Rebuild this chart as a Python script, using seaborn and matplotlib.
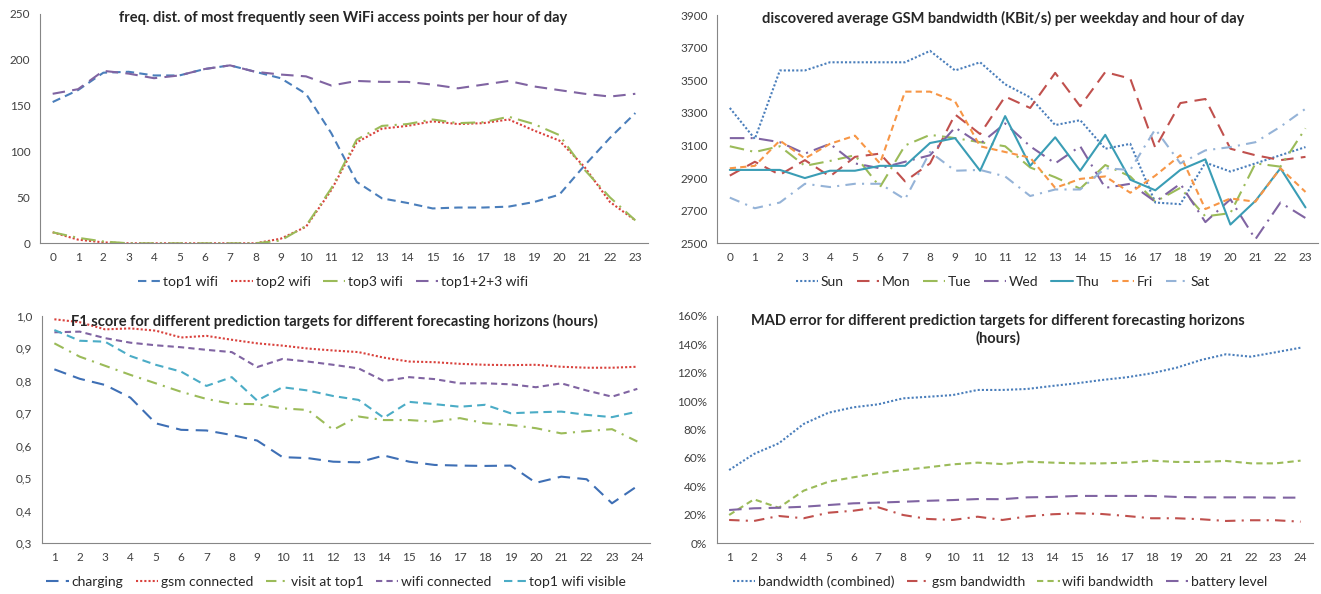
import matplotlib
matplotlib.use('Agg')
import matplotlib.pyplot as plt
import matplotlib.ticker as mticker
import numpy as np
import pandas as pd
import seaborn as sns

# ---- data ----
hours = list(range(24))
top1_wifi = [154, 167, 186, 187, 183, 183, 190, 194, 187, 180, 163, 120, 67, 49, 44, 38, 39, 39, 40, 45, 53, 85, 115, 142]
top2_wifi = [12, 4, 1, 0, 0, 0, 0, 0, 0, 5, 18, 58, 110, 125, 128, 133, 130, 131, 135, 123, 112, 83, 45, 25]
top3_wifi = [12, 6, 2, 0, 0, 0, 0, 0, 0, 3, 19, 60, 113, 128, 130, 135, 131, 132, 138, 130, 118, 80, 50, 25]
top123_wifi = [163, 168, 188, 185, 180, 183, 190, 194, 187, 184, 182, 172, 177, 176, 176, 173, 169, 173, 177, 171, 167, 163, 160, 163]

sun = [3330, 3140, 3560, 3560, 3610, 3610, 3610, 3610, 3680, 3560, 3610, 3475, 3395, 3225, 3255, 3080, 3110, 2750, 2740, 2995, 2940, 2990, 3040, 3090]
mon = [2915, 3000, 2920, 3010, 2910, 3030, 3050, 2880, 2990, 3290, 3170, 3400, 3330, 3545, 3340, 3550, 3510, 3085, 3360, 3385, 3080, 3040, 3010, 3030]
tue = [3095, 3060, 3095, 2975, 3005, 3040, 2845, 3100, 3165, 3145, 3120, 3095, 2965, 2905, 2835, 2980, 2910, 2755, 2840, 2665, 2685, 2990, 2970, 3205]
wed = [3145, 3145, 3120, 3050, 3110, 2990, 2960, 3000, 3040, 3210, 3110, 3235, 3095, 2990, 3095, 2840, 2865, 2755, 2865, 2630, 2770, 2525, 2750, 2655]
thu = [2950, 2950, 2950, 2900, 2945, 2945, 2975, 2975, 3115, 3145, 2945, 3280, 2975, 3150, 2945, 3165, 2890, 2825, 2950, 3015, 2615, 2760, 2960, 2720]
fri = [2960, 2975, 3130, 3020, 3110, 3160, 2990, 3430, 3430, 3370, 3095, 3060, 3025, 2840, 2895, 2910, 2810, 2915, 3040, 2710, 2775, 2755, 2960, 2815]
sat = [2780, 2715, 2750, 2865, 2845, 2865, 2865, 2770, 3060, 2945, 2950, 2910, 2790, 2830, 2830, 2960, 2950, 3200, 2990, 3070, 3090, 3120, 3215, 3325]

horizon = list(range(1, 25))
charging = [0.835, 0.806, 0.787, 0.748, 0.669, 0.649, 0.647, 0.633, 0.616, 0.565, 0.562, 0.551, 0.549, 0.570, 0.551, 0.541, 0.539, 0.538, 0.539, 0.486, 0.505, 0.497, 0.423, 0.476]
gsm_connected = [0.989, 0.980, 0.958, 0.961, 0.954, 0.933, 0.938, 0.926, 0.915, 0.908, 0.899, 0.893, 0.888, 0.871, 0.859, 0.857, 0.852, 0.849, 0.848, 0.849, 0.843, 0.840, 0.840, 0.843]
visit_top1 = [0.915, 0.874, 0.846, 0.818, 0.792, 0.766, 0.744, 0.729, 0.728, 0.715, 0.710, 0.649, 0.690, 0.679, 0.679, 0.674, 0.685, 0.669, 0.664, 0.654, 0.638, 0.645, 0.651, 0.613]
wifi_connected = [0.949, 0.951, 0.931, 0.917, 0.909, 0.903, 0.895, 0.888, 0.842, 0.867, 0.859, 0.849, 0.838, 0.799, 0.811, 0.805, 0.792, 0.792, 0.789, 0.780, 0.792, 0.770, 0.751, 0.775]
top1_visible = [0.956, 0.923, 0.920, 0.876, 0.849, 0.828, 0.784, 0.811, 0.739, 0.780, 0.770, 0.753, 0.741, 0.686, 0.735, 0.728, 0.720, 0.726, 0.700, 0.703, 0.705, 0.695, 0.688, 0.705]

bw_combined = [51.5, 62.8, 70.3, 83.9, 91.8, 95.6, 97.7, 101.9, 103.0, 104.2, 107.8, 107.8, 108.5, 110.6, 112.5, 114.8, 116.7, 119.5, 123.4, 128.9, 132.9, 131.2, 134.3, 137.5]
gsm_bw = [16.4, 15.7, 19.2, 17.6, 21.5, 22.9, 25.3, 19.9, 17.1, 16.4, 18.7, 16.4, 18.9, 20.4, 21.1, 20.6, 19.2, 17.6, 17.6, 16.9, 15.7, 16.2, 16.2, 15.2]
wifi_bw = [19.9, 30.9, 25.0, 37.0, 43.3, 46.4, 49.2, 51.5, 53.4, 55.5, 56.7, 55.7, 57.4, 56.7, 56.2, 56.2, 56.7, 58.1, 57.2, 57.2, 57.9, 56.2, 56.2, 58.1]
battery = [23.4, 24.6, 25.0, 25.7, 26.9, 28.1, 28.6, 29.2, 29.9, 30.4, 31.1, 31.0, 32.3, 32.6, 33.3, 33.3, 33.3, 33.3, 32.6, 32.3, 32.3, 32.3, 32.1, 32.1]

# ---- style ----
sns.set_style('white')
plt.rcParams['font.family'] = ['Lato', 'DejaVu Sans']

BLUE, RED, GREEN, PURPLE = '#4A7EBB', '#D9413C', '#9BBB59', '#8064A2'
AQUA, ORANGE, LIGHT = '#4BACC6', '#F79646', '#95B3D7'
DOT = (0, (1, 1))
SHORT = (0, (3, 2))
DASH = (0, (4, 2.5))
LONG = (0, (6, 3.5))
LDOT = (0, (7, 3, 1, 3))
DDOT = (0, (5, 3, 1, 3))

fig = plt.figure(figsize=(13.21, 5.94), dpi=100)
W, H = 1321, 594


def make_ax(l, t, r, b):
    return fig.add_axes([l / W, 1 - b / H, (r - l) / W, (b - t) / H])


def draw(ax, x, series, ylim, yticks):
    for name, vals, color, ls in series:
        sns.lineplot(x=x, y=vals, ax=ax, color=color, linestyle=ls, lw=1.5, label=name, legend=False)
    ax.set_xlim(x[0] - 0.5, x[-1] + 0.5)
    ax.set_ylim(*ylim)
    ax.set_yticks(yticks)
    ax.set_xticks(x)
    ax.set_xticks(np.arange(x[0] - 0.5, x[-1] + 1, 1), minor=True)
    ax.tick_params(axis='x', which='major', length=0, pad=6, labelsize=8.5, colors='#404040')
    ax.tick_params(axis='x', which='minor', length=4, color='#868686', width=0.8)
    ax.tick_params(axis='y', length=4, color='#868686', width=0.8, labelsize=8.5, colors='#404040', pad=3)
    for s in ['top', 'right']:
        ax.spines[s].set_visible(False)
    for s in ['left', 'bottom']:
        ax.spines[s].set_color('#868686')
        ax.spines[s].set_linewidth(0.8)
    ax.set_xlabel('')
    ax.set_ylabel('')
    ax.patch.set_alpha(0)


def legend(ax, cx, cy, ncol):
    fig.legend(handles=ax.lines, labels=[l.get_label() for l in ax.lines], loc='center',
               bbox_to_anchor=(cx / W, 1 - cy / H), ncol=ncol, frameon=False, fontsize=10,
               handlelength=1.6, handletextpad=0.2, columnspacing=0.9, borderpad=0.1,
               labelcolor='#262626')


# panel 1
ax1 = make_ax(40, 14, 648, 243.3)
draw(ax1, hours, [('top1 wifi', top1_wifi, BLUE, DASH),
                  ('top2 wifi', top2_wifi, RED, DOT),
                  ('top3 wifi', top3_wifi, GREEN, LDOT),
                  ('top1+2+3 wifi', top123_wifi, PURPLE, LONG)],
     (0, 250), range(0, 251, 50))
fig.text(343 / W, 1 - 18 / H, 'freq. dist. of most frequently seen WiFi access points per hour of day',
         ha='center', va='center', fontsize=10.5, fontweight='bold')
legend(ax1, 333, 282, 4)

# panel 2
ax2 = make_ax(717.3, 15, 1318, 243.3)
draw(ax2, hours, [('Sun', sun, BLUE, DOT),
                  ('Mon', mon, '#C0504D', LONG),
                  ('Tue', tue, GREEN, LDOT),
                  ('Wed', wed, PURPLE, LDOT),
                  ('Thu', thu, '#3A9DB5', '-'),
                  ('Fri', fri, ORANGE, SHORT),
                  ('Sat', sat, LIGHT, DDOT)],
     (2500, 3900), range(2500, 3901, 200))
fig.text(1003 / W, 1 - 18 / H, 'discovered average GSM bandwidth (KBit/s) per weekday and hour of day',
         ha='center', va='center', fontsize=10.5, fontweight='bold')
legend(ax2, 1003, 282, 7)

# panel 3
ax3 = make_ax(41.7, 315.7, 650, 543.3)
draw(ax3, horizon, [('charging', charging, '#3E6FB5', LONG),
                    ('gsm connected', gsm_connected, RED, DOT),
                    ('visit at top1', visit_top1, GREEN, DDOT),
                    ('wifi connected', wifi_connected, PURPLE, SHORT),
                    ('top1 wifi visible', top1_visible, AQUA, DASH)],
     (0.3, 1.0), np.arange(0.3, 1.01, 0.1))
ax3.yaxis.set_major_formatter(mticker.FuncFormatter(lambda v, p: f'{v:.1f}'.replace('.', ',')))
fig.text(334 / W, 1 - 321 / H, 'F1 score for different prediction targets for different forecasting horizons (hours)',
         ha='center', va='center', fontsize=10.5, fontweight='bold')
legend(ax3, 336, 582, 5)

# panel 4
ax4 = make_ax(716.7, 315.7, 1313, 543.3)
draw(ax4, horizon, [('bandwidth (combined)', bw_combined, BLUE, DOT),
                    ('gsm bandwidth', gsm_bw, '#C0504D', DDOT),
                    ('wifi bandwidth', wifi_bw, GREEN, SHORT),
                    ('battery level', battery, PURPLE, LONG)],
     (0, 160), range(0, 161, 20))
ax4.yaxis.set_major_formatter(mticker.FuncFormatter(lambda v, p: f'{v:.0f}%'))
fig.text(998 / W, 1 - 330 / H, 'MAD error for different prediction targets for different forecasting horizons\n(hours)',
         ha='center', va='center', fontsize=10.5, fontweight='bold', linespacing=1.25)
legend(ax4, 1000, 582, 4)

fig.savefig('out.png', dpi=100)
